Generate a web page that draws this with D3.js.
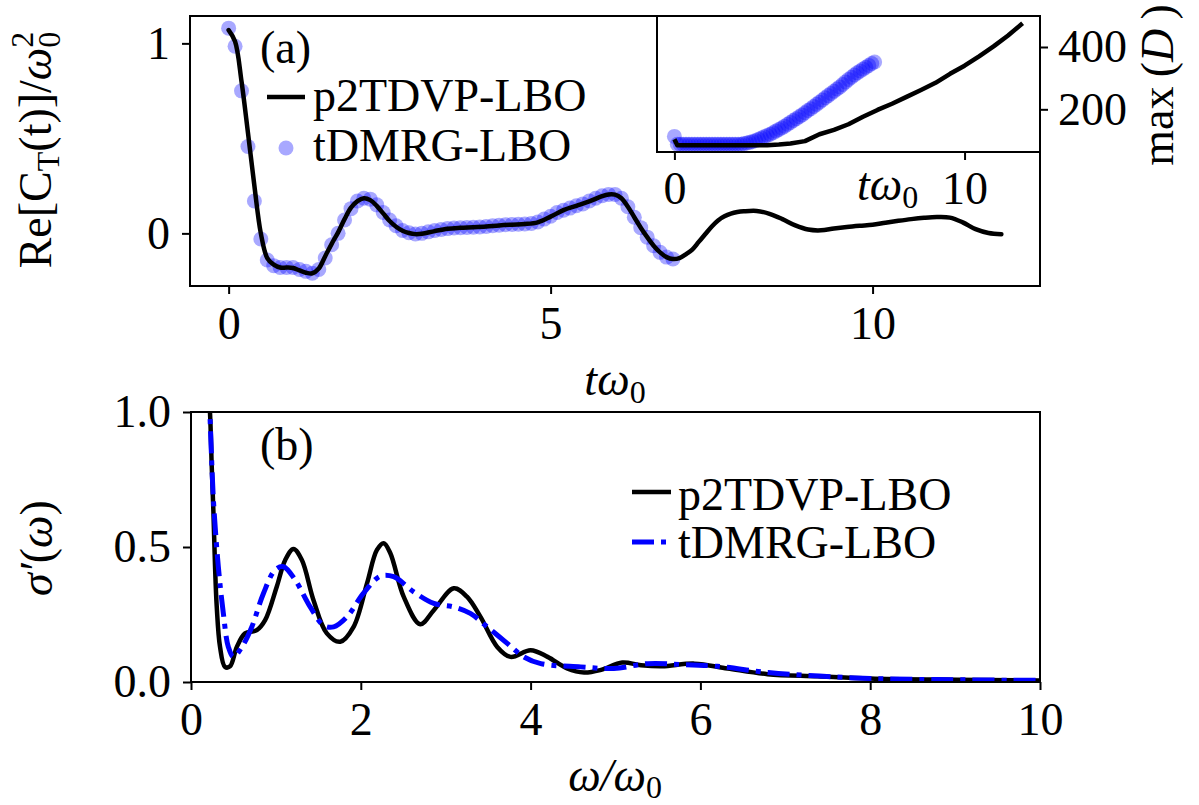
<!DOCTYPE html>
<html>
<head>
<meta charset="utf-8">
<script src="https://cdn.jsdelivr.net/npm/d3@7"></script>
<style>
  html, body { margin: 0; padding: 0; background: #fff; }
  svg { display: block; }
  text { font-family: "Liberation Serif", "Times New Roman", serif; fill: #000; }
</style>
</head>
<body>
<svg id="chart" width="1199" height="805"></svg>
<script>
// ---------- data ----------
// (a) real part of the current correlation, p2TDVP-LBO (solid line)
const p2tdvpTime = [0, 0.1, 0.2, 0.3, 0.4, 0.5, 0.6, 0.7, 0.8, 0.9, 1.0, 1.1, 1.2, 1.3, 1.4, 1.5, 1.6, 1.7, 1.8, 1.9,
  2.0, 2.1, 2.2, 2.3, 2.4, 2.5, 2.6, 2.7, 2.8, 2.9, 3.0, 3.2, 3.4, 3.6, 3.8, 4.0, 4.2, 4.4, 4.6, 4.8,
  5.0, 5.2, 5.4, 5.6, 5.8, 5.9, 6.0, 6.1, 6.2, 6.3, 6.4, 6.5, 6.6, 6.7, 6.8, 6.9, 7.0, 7.1, 7.2, 7.3,
  7.4, 7.5, 7.6, 7.7, 7.8, 7.9, 8.0, 8.2, 8.4, 8.6, 8.8, 9.0, 9.2, 9.4, 9.6, 9.8, 10.0, 10.2, 10.4, 10.6,
  10.8, 11.0, 11.2, 11.4, 11.6, 11.8, 12.0];
const p2tdvpCorr = [1.07, 1.01, 0.80, 0.53, 0.25, 0.0, -0.13, -0.165, -0.18, -0.18, -0.182, -0.195, -0.207, -0.21, -0.185, -0.12, -0.055, 0.005, 0.075, 0.135,
  0.17, 0.185, 0.175, 0.145, 0.105, 0.065, 0.035, 0.014, 0.002, -0.004, -0.002, 0.012, 0.024, 0.029, 0.032, 0.036, 0.042, 0.046, 0.049, 0.058,
  0.088, 0.122, 0.145, 0.168, 0.196, 0.205, 0.204, 0.185, 0.14, 0.085, 0.03, -0.02, -0.065, -0.1, -0.125, -0.135, -0.13, -0.11, -0.085, -0.045,
  -0.005, 0.035, 0.068, 0.09, 0.104, 0.112, 0.116, 0.118, 0.103, 0.075, 0.042, 0.02, 0.016, 0.026, 0.034, 0.04, 0.045, 0.056, 0.066, 0.075,
  0.082, 0.086, 0.083, 0.058, 0.022, 0.002, -0.004];

// (a) tDMRG-LBO samples, one every 0.1 time units
const tdmrgTime = d3.range(70).map(i => i / 10);
const tdmrgCorr = [1.08, 0.985, 0.75, 0.457, 0.17, -0.03, -0.14, -0.17, -0.18, -0.18, -0.18, -0.19, -0.2, -0.21, -0.19, -0.13, -0.06, 0.0, 0.07, 0.13,
  0.17, 0.185, 0.18, 0.15, 0.11, 0.07, 0.04, 0.015, 0.003, -0.003, 0.0, 0.008, 0.015, 0.02, 0.025, 0.028, 0.03, 0.031, 0.032, 0.034,
  0.036, 0.04, 0.043, 0.045, 0.047, 0.048, 0.049, 0.052, 0.06, 0.075, 0.09, 0.11, 0.122, 0.133, 0.145, 0.155, 0.17, 0.185, 0.198, 0.205,
  0.205, 0.185, 0.14, 0.085, 0.03, -0.02, -0.065, -0.1, -0.125, -0.135];

// inset: maximal bond dimension
const p2tdvpBondTime = [0, 0.1, 1.0, 2.0, 3.2, 3.6, 4.0, 4.5, 5.0, 5.5, 6.0, 6.5, 7.0, 7.5, 8.0, 8.5, 9.0, 9.5, 10.0, 10.5, 11.0, 11.5, 12.0];
const p2tdvpBond = [104, 85, 85, 85, 85, 87, 90, 98, 120, 134, 152, 176, 198, 218, 240, 262, 285, 314, 340, 370, 402, 437, 476];
const tdmrgBond = [113,
  88, 88, 88, 88, 88, 88, 88, 88, 88, 88, 88, 88, 88, 88, 88, 88, 88, 88, 88, 88, 88, 88, 88,
  90, 92, 94, 97, 100, 104, 108, 112, 116, 120, 125, 130, 135, 140, 146, 152, 158, 164, 170, 176, 182, 189,
  196, 202, 209, 216, 223, 230, 237, 244, 251, 258, 265, 272, 280, 288, 296, 303, 310, 317, 323, 329, 335, 341, 347, 352];

// (b) real part of the optical conductivity
const p2tdvpOmega = [0.20, 0.224, 0.244, 0.264, 0.283, 0.303, 0.342, 0.40, 0.46, 0.54, 0.637, 0.775, 0.873, 1.01, 1.11, 1.207, 1.306, 1.443, 1.6, 1.758,
  1.915, 2.073, 2.19, 2.27, 2.348, 2.505, 2.7, 2.86, 3.095, 3.25, 3.41, 3.607, 3.764, 4.0, 4.2, 4.43, 4.63, 4.83, 5.08, 5.3,
  5.55, 5.93, 6.32, 6.79, 7.38, 8.0, 8.76, 10.0];
const p2tdvpSigma = [1.10, 0.996, 0.80, 0.63, 0.43, 0.28, 0.13, 0.056, 0.058, 0.13, 0.18, 0.192, 0.229, 0.353, 0.452, 0.493, 0.452, 0.303, 0.18, 0.149,
  0.204, 0.365, 0.489, 0.514, 0.477, 0.316, 0.214, 0.266, 0.347, 0.316, 0.241, 0.13, 0.093, 0.118, 0.093, 0.05, 0.035, 0.045, 0.072, 0.062,
  0.058, 0.068, 0.05, 0.029, 0.021, 0.013, 0.009, 0.006];
const tdmrgOmega = [0.20, 0.22, 0.264, 0.322, 0.381, 0.44, 0.5, 0.6, 0.716, 0.853, 0.991, 1.089, 1.227, 1.404, 1.561, 1.68, 1.837, 2.03, 2.23, 2.387,
  2.623, 2.86, 3.095, 3.29, 3.49, 3.725, 3.92, 4.12, 4.59, 4.98, 5.38, 5.77, 6.2, 6.8, 7.4, 8.0, 8.76, 10.0];
const tdmrgSigma = [1.08, 1.0, 0.675, 0.427, 0.254, 0.13, 0.093, 0.13, 0.204, 0.328, 0.415, 0.427, 0.378, 0.278, 0.21, 0.204, 0.241, 0.328, 0.392, 0.39,
  0.334, 0.291, 0.278, 0.254, 0.204, 0.143, 0.093, 0.068, 0.056, 0.05, 0.068, 0.065, 0.058, 0.035, 0.022, 0.013, 0.009, 0.006];

// tick values
const ticksAX = [0, 5, 10], ticksAY = [0, 1];
const ticksInsetX = [0, 10], ticksInsetY = [200, 400];
const ticksBX = [0, 2, 4, 6, 8, 10], ticksBY = [0, 0.5, 1.0];

const seriesLabels = ["p2TDVP-LBO", "tDMRG-LBO"];

// ---------- drawing ----------
const svg = d3.select("#chart");
const FS = 46, SUB = 32;
const dotFill = "rgba(0,0,255,0.34)";
const dashDot = "22,7,5,7";

const boxA = {l: 190, r: 1040, t: 16, b: 286};
const boxI = {l: 657, r: 1040, t: 16, b: 152};
const boxB = {l: 191, r: 1040, t: 412, b: 682};

const xA = d3.scaleLinear([-0.6, 12.6], [boxA.l, boxA.r]);
const yA = d3.scaleLinear([-0.277, 1.144], [boxA.b, boxA.t]);
const xI = d3.scaleLinear([-0.6, 12.6], [boxI.l, boxI.r]);
const yI = d3.scaleLinear([63, 499.5], [boxI.b, boxI.t]);
const xB = d3.scaleLinear([0, 10], [boxB.l, boxB.r]);
const yB = d3.scaleLinear([0, 1], [boxB.b, boxB.t]);

function clip(id, box) {
  svg.append("clipPath").attr("id", id).append("rect")
    .attr("x", box.l).attr("y", box.t).attr("width", box.r - box.l).attr("height", box.b - box.t);
}
clip("clipA", boxA); clip("clipI", boxI); clip("clipB", boxB);

function styleAxis(g) {
  g.select(".domain").remove();
  g.attr("font-size", null).attr("font-family", null);
  g.selectAll(".tick line").attr("stroke", "#000").attr("stroke-width", 2);
  g.selectAll(".tick text").attr("font-size", FS);
}
function frame(box) {
  svg.append("rect").attr("x", box.l).attr("y", box.t)
    .attr("width", box.r - box.l).attr("height", box.b - box.t)
    .attr("fill", "none").attr("stroke", "#000").attr("stroke-width", 2);
}
const fmt = d => String(d);

// ===== panel (a) =====
svg.append("g").attr("transform", `translate(0,${boxA.b})`)
  .call(d3.axisBottom(xA).tickValues(ticksAX).tickFormat(fmt).tickSize(8).tickSizeOuter(0).tickPadding(12))
  .call(styleAxis);
svg.append("g").attr("transform", `translate(${boxA.l},0)`)
  .call(d3.axisLeft(yA).tickValues(ticksAY).tickFormat(fmt).tickSize(8).tickSizeOuter(0).tickPadding(12))
  .call(styleAxis);

const gA = svg.append("g").attr("clip-path", "url(#clipA)");
gA.selectAll("circle.dmrg").data(tdmrgTime.map((t, i) => [t, tdmrgCorr[i]]))
  .join("circle").attr("class", "dmrg")
  .attr("cx", d => xA(d[0])).attr("cy", d => yA(d[1])).attr("r", 7.5)
  .attr("fill", dotFill);
gA.append("path")
  .datum(p2tdvpTime.map((t, i) => [t, p2tdvpCorr[i]]))
  .attr("fill", "none").attr("stroke", "#000").attr("stroke-width", 4.5)
  .attr("stroke-linejoin", "round").attr("stroke-linecap", "round")
  .attr("d", d3.line().x(d => xA(d[0])).y(d => yA(d[1])).curve(d3.curveCatmullRom.alpha(0.5)));
frame(boxA);

svg.append("text").attr("x", 260).attr("y", 63).attr("font-size", FS).text("(a)");

// legend (a)
svg.append("line").attr("x1", 267).attr("x2", 305).attr("y1", 97).attr("y2", 97)
  .attr("stroke", "#000").attr("stroke-width", 4.5);
svg.append("text").attr("x", 313).attr("y", 111).attr("font-size", FS).text(seriesLabels[0]);
svg.append("circle").attr("cx", 286).attr("cy", 148).attr("r", 7.5).attr("fill", dotFill);
svg.append("text").attr("x", 313).attr("y", 161).attr("font-size", FS).text(seriesLabels[1]);

// axis labels (a)
const xlabA = svg.append("text").attr("x", 615).attr("y", 395).attr("text-anchor", "middle").attr("font-size", FS);
xlabA.append("tspan").attr("font-style", "italic").text("tω");
xlabA.append("tspan").attr("font-size", SUB).attr("dy", 8).text("0");

const ylabA = svg.append("text").attr("transform", "translate(51,150) rotate(-90)")
  .attr("text-anchor", "middle").attr("font-size", FS);
ylabA.append("tspan").text("Re[C");
ylabA.append("tspan").attr("font-size", SUB).attr("dy", 8).text("T");
ylabA.append("tspan").attr("dy", -8).text("(t)]/");
ylabA.append("tspan").attr("font-style", "italic").text("ω");
ylabA.append("tspan").attr("font-size", SUB).attr("dy", -18).text("2");
ylabA.append("tspan").attr("font-size", SUB).attr("dx", -16).attr("dy", 27).text("0");

// ===== inset =====
svg.append("rect").attr("x", boxI.l).attr("y", boxI.t)
  .attr("width", boxI.r - boxI.l).attr("height", boxI.b - boxI.t).attr("fill", "#fff");
svg.append("g").attr("transform", `translate(0,${boxI.b})`)
  .call(d3.axisBottom(xI).tickValues(ticksInsetX).tickFormat(fmt).tickSize(8).tickSizeOuter(0).tickPadding(11))
  .call(styleAxis);
svg.append("g").attr("transform", `translate(${boxI.r},0)`)
  .call(d3.axisRight(yI).tickValues(ticksInsetY).tickFormat(fmt).tickSize(8).tickSizeOuter(0).tickPadding(10))
  .call(styleAxis);

const gI = svg.append("g").attr("clip-path", "url(#clipI)");
gI.selectAll("circle.dmrgD").data(tdmrgTime.map((t, i) => [t, tdmrgBond[i]]))
  .join("circle").attr("class", "dmrgD")
  .attr("cx", d => xI(d[0])).attr("cy", d => yI(d[1])).attr("r", 7.5)
  .attr("fill", dotFill);
gI.append("path")
  .datum(p2tdvpBondTime.map((t, i) => [t, p2tdvpBond[i]]))
  .attr("fill", "none").attr("stroke", "#000").attr("stroke-width", 4.5)
  .attr("stroke-linejoin", "round")
  .attr("d", d3.line().x(d => xI(d[0])).y(d => yI(d[1])));
frame(boxI);

const xlabI = svg.append("text").attr("x", 857).attr("y", 200).attr("font-size", FS);
xlabI.append("tspan").attr("font-style", "italic").text("tω");
xlabI.append("tspan").attr("font-size", SUB).attr("dy", 8).text("0");

const ylabI = svg.append("text").attr("transform", "translate(1173,85) rotate(-90)")
  .attr("text-anchor", "middle").attr("font-size", FS);
ylabI.append("tspan").text("max\u2009(");
ylabI.append("tspan").attr("font-style", "italic").text("D");
ylabI.append("tspan").text("\u2009)");

// ===== panel (b) =====
svg.append("g").attr("transform", `translate(0,${boxB.b})`)
  .call(d3.axisBottom(xB).tickValues(ticksBX).tickFormat(fmt).tickSize(8).tickSizeOuter(0).tickPadding(12))
  .call(styleAxis);
svg.append("g").attr("transform", `translate(${boxB.l},0)`)
  .call(d3.axisLeft(yB).tickValues(ticksBY).tickFormat(d3.format(".1f")).tickSize(8).tickSizeOuter(0).tickPadding(12))
  .call(styleAxis);

const gB = svg.append("g").attr("clip-path", "url(#clipB)");
const lineB = d3.line().x(d => xB(d[0])).y(d => yB(d[1])).curve(d3.curveCatmullRom.alpha(0.5));
gB.append("path")
  .datum(p2tdvpOmega.map((w, i) => [w, p2tdvpSigma[i]]))
  .attr("fill", "none").attr("stroke", "#000").attr("stroke-width", 4.5)
  .attr("stroke-linejoin", "round").attr("d", lineB);
gB.append("path")
  .datum(tdmrgOmega.map((w, i) => [w, tdmrgSigma[i]]))
  .attr("fill", "none").attr("stroke", "#0000ff").attr("stroke-width", 5)
  .attr("stroke-dasharray", dashDot).attr("d", lineB);
frame(boxB);

svg.append("text").attr("x", 260).attr("y", 460).attr("font-size", FS).text("(b)");

// legend (b)
svg.append("line").attr("x1", 632).attr("x2", 671).attr("y1", 492).attr("y2", 492)
  .attr("stroke", "#000").attr("stroke-width", 4.5);
svg.append("text").attr("x", 678).attr("y", 510).attr("font-size", FS).text(seriesLabels[0]);
svg.append("line").attr("x1", 632).attr("x2", 671).attr("y1", 542).attr("y2", 542)
  .attr("stroke", "#0000ff").attr("stroke-width", 5).attr("stroke-dasharray", dashDot);
svg.append("text").attr("x", 678).attr("y", 558).attr("font-size", FS).text(seriesLabels[1]);

// axis labels (b)
const xlabB = svg.append("text").attr("x", 615).attr("y", 791).attr("text-anchor", "middle").attr("font-size", FS);
xlabB.append("tspan").attr("font-style", "italic").text("ω/ω");
xlabB.append("tspan").attr("font-size", SUB).attr("dy", 7).text("0");

const ylabB = svg.append("text").attr("transform", "translate(52,548) rotate(-90)")
  .attr("text-anchor", "middle").attr("font-size", FS);
ylabB.append("tspan").attr("font-style", "italic").text("σ′");
ylabB.append("tspan").text("(");
ylabB.append("tspan").attr("font-style", "italic").text("ω");
ylabB.append("tspan").text(")");
</script>
</body>
</html>
